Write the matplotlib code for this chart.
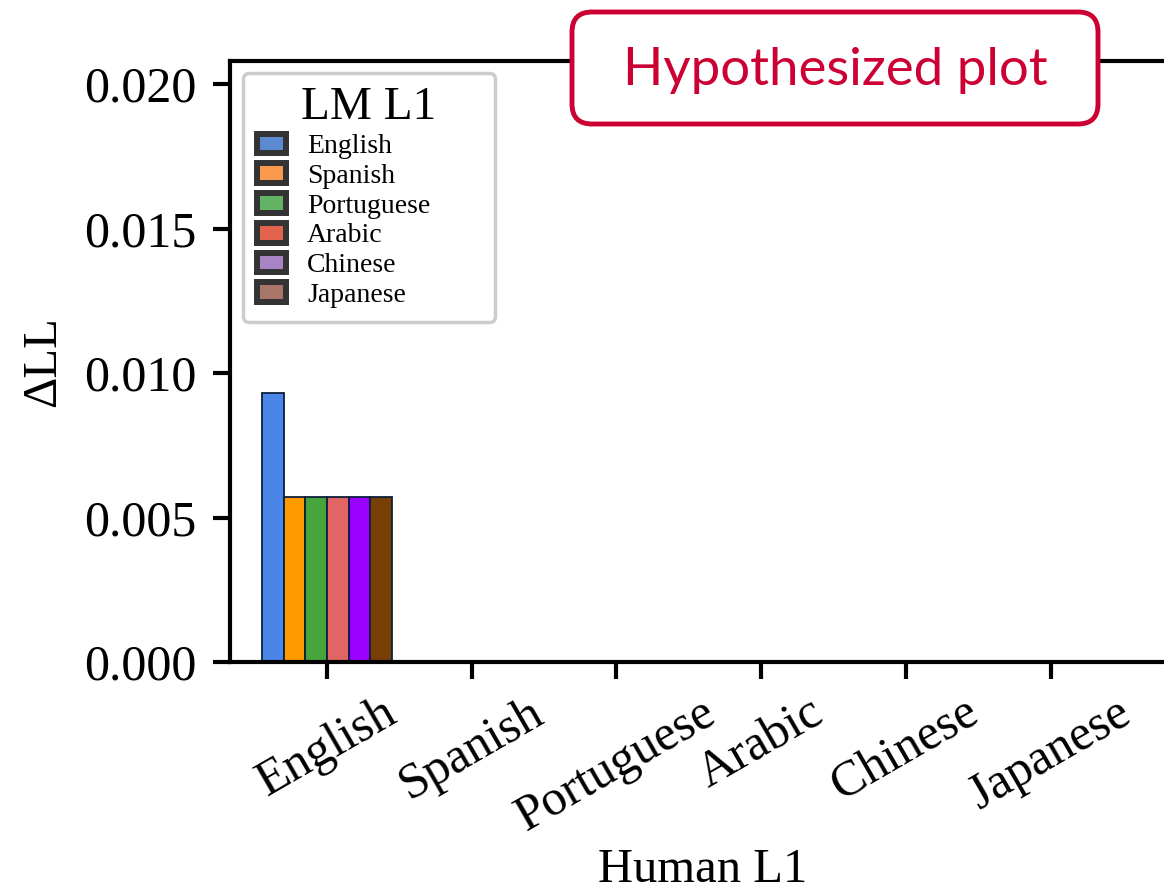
import numpy as np
import matplotlib
matplotlib.use("Agg")
import matplotlib.pyplot as plt
from matplotlib.patches import FancyBboxPatch, Patch

# --- data ---
human_l1 = ["English", "Spanish", "Portuguese", "Arabic", "Chinese", "Japanese"]
lm_l1 = ["English", "Spanish", "Portuguese", "Arabic", "Chinese", "Japanese"]
# delta LL per LM L1 (rows) for each human L1 (columns); only English is hypothesized
delta_ll = {
    "English":    [0.0093, np.nan, np.nan, np.nan, np.nan, np.nan],
    "Spanish":    [0.0057, np.nan, np.nan, np.nan, np.nan, np.nan],
    "Portuguese": [0.0057, np.nan, np.nan, np.nan, np.nan, np.nan],
    "Arabic":     [0.0057, np.nan, np.nan, np.nan, np.nan, np.nan],
    "Chinese":    [0.0057, np.nan, np.nan, np.nan, np.nan, np.nan],
    "Japanese":   [0.0057, np.nan, np.nan, np.nan, np.nan, np.nan],
}
yticks = [0.000, 0.005, 0.010, 0.015, 0.020]

bar_colors = ["#4a86e8", "#ff9900", "#48a53b", "#e06666", "#9900ff", "#783f04"]
legend_colors = ["#5b8ad0", "#f99a4e", "#62b364", "#e4634f", "#a884c4", "#a9776a"]

plt.rcParams["font.family"] = ["Liberation Serif", "DejaVu Serif"]

W, H = 1164, 894
fig = plt.figure(figsize=(W / 100, H / 100), dpi=100)
ax = fig.add_axes([230 / W, (H - 662) / H, (1175 - 230) / W, (662 - 61) / H])

x = np.arange(len(human_l1))
width = 0.15
for i, lang in enumerate(lm_l1):
    ax.bar(x + (i - 2.5) * width, delta_ll[lang], width=width,
           color=bar_colors[i], edgecolor="#0b1f3c", linewidth=1.3)

ax.set_xlim(-0.67, 5.86)
ax.set_ylim(0, 0.0208)
ax.set_xticks(x)
ax.set_xticklabels(human_l1, rotation=30, ha="center")
ax.set_yticks(yticks)
ax.set_yticklabels([f"{v:.3f}" for v in yticks])
ax.tick_params(labelsize=36, width=3, length=12, pad=12)
ax.tick_params(axis="x", pad=8)
for s in ax.spines.values():
    s.set_linewidth(3)
ax.set_xlabel("Human L1", fontsize=35, labelpad=5)
ax.set_ylabel("ΔLL", fontsize=35, labelpad=14)

handles = [Patch(facecolor=c, edgecolor="#333333", linewidth=4.3) for c in legend_colors]
leg = ax.legend(handles, lm_l1, title="LM L1", loc="upper left", mode="expand",
                bbox_to_anchor=(13 / 945, 0.0, 252 / 945, 1 - 12 / 601),
                borderaxespad=0, fontsize=20, title_fontsize=34,
                labelspacing=0.15, handlelength=1.05, handleheight=0.72,
                handletextpad=0.75, borderpad=0.5, fancybox=True, framealpha=1)
leg.get_frame().set_edgecolor("#cccccc")
leg.get_frame().set_linewidth(2.5)

# "Hypothesized plot" badge, drawn in pixel coordinates on an overlay
ov = fig.add_axes([0, 0, 1, 1], zorder=5)
ov.set_xlim(0, W)
ov.set_ylim(H, 0)
ov.axis("off")
r = 20
ov.add_patch(FancyBboxPatch((572 + r, 12 + r), 526 - 2 * r, 112 - 2 * r,
                            boxstyle=f"round,pad={r}", facecolor="white",
                            edgecolor="#cc0033", linewidth=3.5))
ov.text(835, 70, "Hypothesized plot", color="#cc0033", fontsize=38,
        family="Lato", ha="center", va="center")

fig.savefig("out.png", dpi=100)
